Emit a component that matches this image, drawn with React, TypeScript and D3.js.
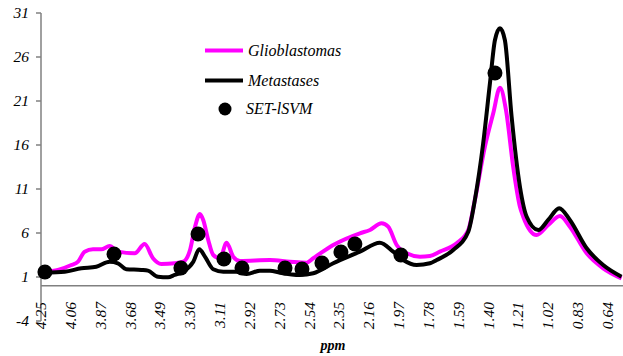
import React from 'react';
import * as d3 from 'd3';

// ppm positions and mean intensities
const glioPpm = [4.226, 4.142, 4.057, 4.014, 3.972, 3.919, 3.866, 3.813, 3.76, 3.653, 3.59, 3.537, 3.484, 3.399, 3.344, 3.301, 3.269, 3.238, 3.217, 3.185, 3.153, 3.11, 3.068, 3.026, 2.983, 2.792, 2.665, 2.558, 2.516, 2.389, 2.219, 2.155, 2.081, 2.039, 1.985, 1.922, 1.837, 1.773, 1.71, 1.603, 1.529, 1.487, 1.423, 1.37, 1.327, 1.289, 1.243, 1.2, 1.179, 1.094, 1.02, 0.945, 0.882, 0.775, 0.67, 0.553];
const glioVals = [1.6, 1.8, 2.36, 2.74, 3.88, 4.15, 4.15, 4.52, 3.88, 3.69, 4.75, 3.13, 2.48, 2.56, 2.74, 4.07, 6.72, 8.16, 7.48, 5.2, 3.5, 3.13, 4.9, 3.31, 2.82, 2.93, 2.74, 2.63, 3.13, 4.64, 5.97, 6.34, 7.1, 6.72, 4.64, 3.69, 3.31, 3.39, 3.88, 4.83, 6.34, 9.75, 15.81, 19.6, 22.5, 19.98, 13.53, 8.99, 7.85, 5.77, 6.91, 7.93, 6.72, 3.69, 1.99, 0.85];

const metaPpm = [4.226, 4.099, 3.993, 3.898, 3.813, 3.76, 3.707, 3.611, 3.569, 3.505, 3.441, 3.399, 3.344, 3.28, 3.242, 3.206, 3.153, 3.089, 3.004, 2.94, 2.856, 2.792, 2.728, 2.601, 2.516, 2.389, 2.219, 2.092, 2.007, 1.943, 1.858, 1.773, 1.73, 1.625, 1.529, 1.487, 1.434, 1.391, 1.359, 1.327, 1.296, 1.253, 1.2, 1.157, 1.083, 1.02, 0.95, 0.882, 0.775, 0.67, 0.553];
const metaVals = [1.49, 1.6, 1.99, 2.17, 2.74, 2.56, 1.88, 1.8, 1.72, 1.03, 0.97, 1.23, 1.6, 2.74, 4.15, 3.31, 1.88, 1.6, 1.6, 1.34, 1.72, 1.72, 1.49, 1.23, 1.42, 2.56, 3.88, 4.9, 3.88, 2.93, 2.36, 2.56, 2.93, 4.07, 6.15, 9.75, 16.19, 23.01, 27.93, 29.26, 27.93, 19.22, 11.26, 7.85, 6.34, 7.48, 8.81, 7.48, 4.26, 2.36, 1.03];

// selected features (SET-lSVM)
const setPpm = [4.225, 3.785, 3.359, 3.25, 3.085, 2.97, 2.696, 2.588, 2.461, 2.34, 2.251, 1.958, 1.359];
const setVals = [1.57, 3.61, 2.02, 5.89, 3.05, 2.02, 2.02, 1.91, 2.59, 3.84, 4.75, 3.5, 24.18];

const xTickLabels = ['4.25', '4.06', '3.87', '3.68', '3.49', '3.30', '3.11', '2.92', '2.73', '2.54', '2.35', '2.16', '1.97', '1.78', '1.59', '1.40', '1.21', '1.02', '0.83', '0.64'];
const yTicks = [-4, 1, 6, 11, 16, 21, 26, 31];

const W = 623;
const H = 356;
const serif = {fontFamily: "'Liberation Serif', 'DejaVu Serif', serif", fontStyle: 'italic'};

export default function App() {
  const x = d3.scaleLinear().domain([4.25, 0.55]).range([41, 622]);
  const y = d3.scaleLinear().domain([-4, 31]).range([321, 13]);

  const line = d3.line<[number, number]>()
    .x(d => x(d[0]))
    .y(d => y(d[1]))
    .curve(d3.curveMonotoneX);

  const glio = line(glioPpm.map((p, i) => [p, glioVals[i]]) as [number, number][]) || '';
  const meta = line(metaPpm.map((p, i) => [p, metaVals[i]]) as [number, number][]) || '';

  const axisColor = '#808080';

  return (
    <svg width={W} height={H} style={{position: 'fixed', left: 0, top: 0}}>
      <rect width={W} height={H} fill="white" />

      {/* y axis */}
      <line x1={x(4.25)} x2={x(4.25)} y1={y(31)} y2={y(-4)} stroke={axisColor} strokeWidth={1.5} />
      {yTicks.map(t => (
        <g key={t}>
          <line x1={x(4.25) - 5} x2={x(4.25)} y1={y(t)} y2={y(t)} stroke={axisColor} strokeWidth={1.5} />
          <text x={29} y={y(t) + 5} textAnchor="end" fontSize={15.5} style={serif}>{t}</text>
        </g>
      ))}

      {/* x axis at zero */}
      <line x1={x(4.25)} x2={W} y1={y(0)} y2={y(0)} stroke={axisColor} strokeWidth={1.5} />
      {xTickLabels.map(l => (
        <text key={l} transform={`translate(${x(+l) + 5},${302}) rotate(-90)`} textAnchor="end"
          fontSize={15.5} style={serif}>{l}</text>
      ))}
      <text x={333} y={350} textAnchor="middle" fontSize={14} fontWeight="bold" style={serif}>ppm</text>

      {/* spectra */}
      <path d={glio} fill="none" stroke="#ff00ff" strokeWidth={4} strokeLinejoin="round" />
      <path d={meta} fill="none" stroke="black" strokeWidth={4} strokeLinejoin="round" />
      {setPpm.map((p, i) => (
        <circle key={i} cx={x(p)} cy={y(setVals[i])} r={7.5} fill="black" />
      ))}

      {/* legend */}
      <line x1={205} x2={243} y1={50.5} y2={50.5} stroke="#ff00ff" strokeWidth={4} />
      <text x={248} y={56} fontSize={16} style={serif}>Glioblastomas</text>
      <line x1={205} x2={243} y1={80.5} y2={80.5} stroke="black" strokeWidth={4} />
      <text x={248} y={86} fontSize={16} style={serif}>Metastases</text>
      <circle cx={225} cy={109} r={6.5} fill="black" />
      <text x={246} y={114} fontSize={16} style={serif}>SET-lSVM</text>
    </svg>
  );
}
